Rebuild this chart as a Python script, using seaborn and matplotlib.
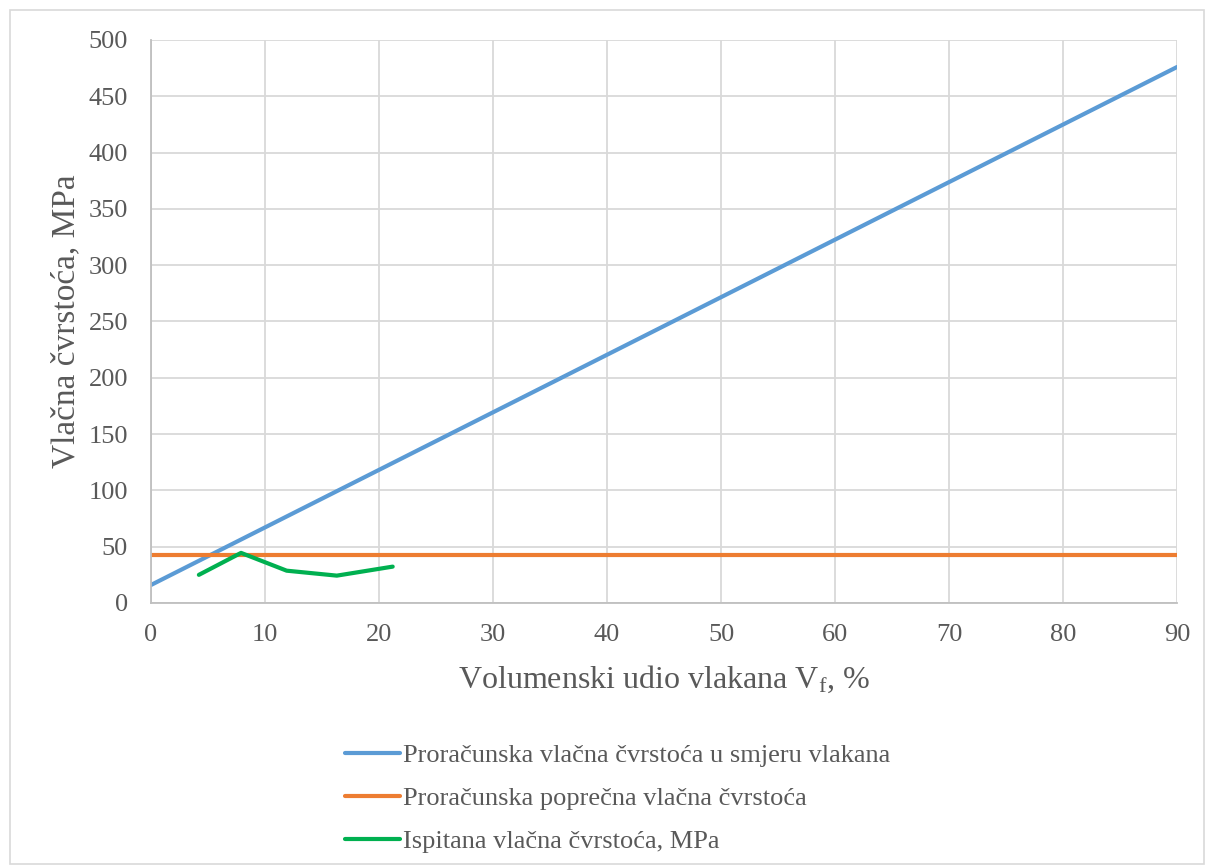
import matplotlib
matplotlib.use("Agg")
import matplotlib.pyplot as plt
import seaborn as sns
import pandas as pd
from matplotlib.lines import Line2D

# data
x_calc = [0, 90]
y_long = [16, 476]
y_trans = [42.5, 42.5]
x_test = [4.2, 7.9, 11.9, 16.3, 21.2]
y_test = [25, 44.5, 28.7, 24.3, 32.3]
labels = ["Proračunska vlačna čvrstoća u smjeru vlakana",
          "Proračunska poprečna vlačna čvrstoća",
          "Ispitana vlačna čvrstoća, MPa"]
colors = ["#5b9bd5", "#ed7d31", "#00b050"]
xticks = list(range(0, 91, 10))
yticks = list(range(0, 501, 50))

sns.set_theme(style="white")
plt.rcParams['font.family'] = ['Liberation Serif', 'DejaVu Serif']
plt.rcParams['mathtext.fontset'] = 'custom'
plt.rcParams['mathtext.rm'] = 'Liberation Serif'
plt.rcParams['mathtext.it'] = 'Liberation Serif:italic'

df = pd.concat([
    pd.DataFrame({"x": x_calc, "y": y_long, "s": labels[0]}),
    pd.DataFrame({"x": x_calc, "y": y_trans, "s": labels[1]}),
    pd.DataFrame({"x": x_test, "y": y_test, "s": labels[2]}),
])

fig = plt.figure(figsize=(12.06, 8.67), dpi=100)
ax = fig.add_axes([0.1252, 0.3045, 0.976 - 0.1252, 0.9539 - 0.3045])
sns.lineplot(data=df, x="x", y="y", hue="s", palette=colors, linewidth=3,
             ax=ax, legend=False, sort=False, estimator=None)

ax.set_xlim(0, 90)
ax.set_ylim(0, 500)
ax.set_xticks(xticks)
ax.set_yticks(yticks)
ax.grid(True, color="#d9d9d9", linewidth=1.3)
ax.set_axisbelow(True)
for s in ["top", "right"]:
    ax.spines[s].set_visible(False)
for s in ["left", "bottom"]:
    ax.spines[s].set_color("#bfbfbf")
    ax.spines[s].set_linewidth(1.3)
ax.tick_params(axis="both", length=0, labelsize=19, colors="#595959")
ax.tick_params(axis="x", pad=15)
ax.tick_params(axis="y", pad=16.5)
ax.set_xlabel(r"Volumenski udio vlakana V$_\mathrm{f}$, %", fontsize=23, color="#595959", labelpad=13)
ax.set_ylabel("Vlačna čvrstoća, MPa", fontsize=24, color="#595959", labelpad=5)

handles = [Line2D([], [], color=c, linewidth=3) for c in colors]
leg = fig.legend(handles, labels, loc="upper left", bbox_to_anchor=(334 / 1206, 1 - 733 / 867),
                 frameon=False, fontsize=19, labelcolor="#595959", handlelength=2.1,
                 handletextpad=0.1, labelspacing=0.74, borderaxespad=0)

# outer chart border
fig.patches.append(plt.Rectangle((0.008, 0.003), 0.99, 0.985, transform=fig.transFigure,
                                 fill=False, edgecolor="#d9d9d9", linewidth=1.2))
fig.savefig("out.png", dpi=100)
